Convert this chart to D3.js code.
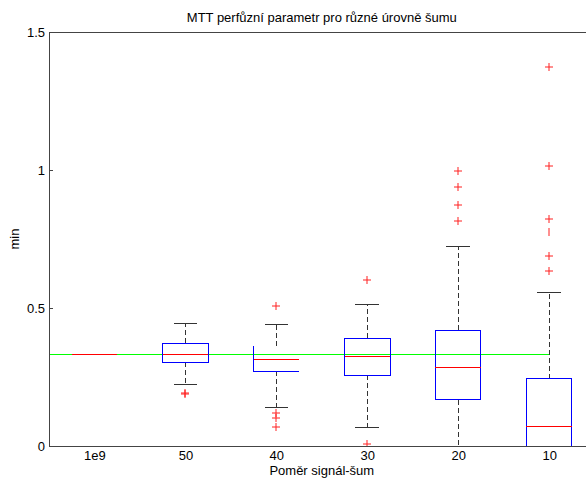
<!DOCTYPE html>
<html>
<head>
<meta charset="utf-8">
<script src="https://cdn.jsdelivr.net/npm/d3@7"></script>
<style>
  body { margin: 0; background: #fff; }
  svg { font-family: "Liberation Sans", Arial, sans-serif; }
  line, path.box { shape-rendering: crispEdges; }
</style>
</head>
<body>
<div id="main"></div>
<script>
"use strict";

// data
const categories = ["1e9", "50", "40", "30", "20", "10"];
const lowerWhisker = [0.333, 0.224, 0.140, 0.066, -0.10, -0.20];
const lowerQuartile = [0.333, 0.303, 0.271, 0.256, 0.167, -0.05];
const medians = [0.333, 0.332, 0.314, 0.325, 0.285, 0.069];
const upperQuartile = [0.333, 0.372, 0.362, 0.390, 0.419, 0.244];
const upperWhisker = [0.333, 0.443, 0.441, 0.514, 0.722, 0.556];
const outliers = [
    [],
    [0.193, 0.190],
    [0.508, 0.121, 0.101, 0.070],
    [0.600, 0.008],
    [0.998, 0.937, 0.873, 0.815],
    [1.373, 1.013, 0.822, 0.777, 0.690, 0.634]
];
const referenceValue = 0.333;
const yTicks = [0, 0.5, 1, 1.5];

const titleText = "MTT perfůzní parametr pro různé úrovně šumu";
const xLabel = "Poměr signál-šum";
const yLabel = "min";

function main() {
    const width = 586, height = 478;
    const margin = { left: 49, top: 32, bottom: 32 };
    const plotRight = 594.6; // the original figure is cut off on the right
    const fontSize = "13px";

    const svg = d3.select("#main").append("svg")
        .attr("width", width)
        .attr("height", height);

    const x = d3.scaleLinear().domain([0.5, 6.5]).range([margin.left, plotRight]);
    const y = d3.scaleLinear().domain([0, 1.5]).range([height - margin.bottom, margin.top]);

    svg.append("clipPath").attr("id", "plot-clip")
        .append("rect")
        .attr("x", x(0.5)).attr("y", y(1.5))
        .attr("width", x(6.5) - x(0.5)).attr("height", y(0) - y(1.5));

    const plot = svg.append("g").attr("clip-path", "url(#plot-clip)");

    // reference line
    plot.append("line")
        .attr("x1", x(0.5)).attr("x2", x(6))
        .attr("y1", y(referenceValue)).attr("y2", y(referenceValue))
        .attr("stroke", "#00ff00").attr("stroke-width", 1);

    const boxHalf = 0.25, capHalf = 0.13;

    categories.forEach((c, i) => {
        const pos = i + 1;
        const g = plot.append("g");
        const bx0 = x(pos - boxHalf), bx1 = x(pos + boxHalf);
        const degenerate = upperQuartile[i] === lowerQuartile[i] &&
            upperWhisker[i] === lowerWhisker[i];

        if (!degenerate) {
            // whiskers
            g.append("line")
                .attr("x1", x(pos)).attr("x2", x(pos))
                .attr("y1", y(upperQuartile[i])).attr("y2", y(upperWhisker[i]))
                .attr("stroke", "#333").attr("stroke-dasharray", "5,3");
            g.append("line")
                .attr("x1", x(pos)).attr("x2", x(pos))
                .attr("y1", y(lowerQuartile[i])).attr("y2", y(lowerWhisker[i]))
                .attr("stroke", "#333").attr("stroke-dasharray", "5,3");
            [upperWhisker[i], lowerWhisker[i]].forEach(v => {
                g.append("line")
                    .attr("x1", x(pos - capHalf)).attr("x2", x(pos + capHalf))
                    .attr("y1", y(v)).attr("y2", y(v))
                    .attr("stroke", "#333");
            });

            // box (the "40" box only has its left and bottom edges drawn in the original)
            const by0 = y(upperQuartile[i]), by1 = y(lowerQuartile[i]);
            const boxPath = c === "40"
                ? `M${bx0},${by0}V${by1}H${bx1}`
                : `M${bx0},${by0}H${bx1}V${by1}H${bx0}Z`;
            g.append("path")
                .attr("class", "box")
                .attr("d", boxPath)
                .attr("fill", "none")
                .attr("stroke", "#0000ff");
        }

        // median
        g.append("line")
            .attr("x1", bx0).attr("x2", bx1)
            .attr("y1", y(medians[i])).attr("y2", y(medians[i]))
            .attr("stroke", "#ff0000");

        // outliers as "+" marks
        outliers[i].forEach((v, j) => {
            const cx = Math.round(x(pos)), cy = Math.round(y(v));
            const onlyVertical = c === "10" && j === 3;
            let d = `M${cx},${cy - 4}V${cy + 4}`;
            if (!onlyVertical) d += `M${cx - 4},${cy}H${cx + 4}`;
            g.append("path")
                .attr("d", d)
                .attr("stroke", "#ff2020")
                .attr("stroke-width", 1)
                .attr("fill", "none");
        });
    });

    // axes
    const axisColor = "#444";
    const yAxis = svg.append("g")
        .attr("transform", `translate(${x(0.5)},0)`)
        .call(d3.axisLeft(y).tickValues(yTicks).tickFormat(d3.format("~g"))
            .tickSizeInner(-4).tickSizeOuter(0).tickPadding(4));

    const xAxis = svg.append("g")
        .attr("transform", `translate(0,${y(0)})`)
        .call(d3.axisBottom(x).tickValues(d3.range(1, categories.length + 1))
            .tickFormat(d => categories[d - 1])
            .tickSizeInner(0).tickSizeOuter(0).tickPadding(5));

    [xAxis, yAxis].forEach(a => {
        a.select(".domain").attr("stroke", axisColor);
        a.selectAll(".tick line").attr("stroke", axisColor);
        a.selectAll("text").attr("fill", "#000").style("font-size", fontSize)
            .style("font-family", "'Liberation Sans', Arial, sans-serif");
    });

    // frame lines
    svg.append("line")
        .attr("x1", x(0.5)).attr("x2", x(6.5))
        .attr("y1", y(1.5)).attr("y2", y(1.5))
        .attr("stroke", axisColor);
    svg.append("line")
        .attr("x1", x(6.5)).attr("x2", x(6.5))
        .attr("y1", y(1.5)).attr("y2", y(0))
        .attr("stroke", axisColor);

    // labels
    const midX = (x(0.5) + x(6.5)) / 2;
    svg.append("text")
        .attr("x", midX).attr("y", 22)
        .attr("text-anchor", "middle")
        .style("font-size", fontSize)
        .text(titleText);

    svg.append("text")
        .attr("x", midX).attr("y", 475)
        .attr("text-anchor", "middle")
        .style("font-size", fontSize)
        .text(xLabel);

    svg.append("text")
        .attr("transform", `translate(19,${(y(0) + y(1.5)) / 2}) rotate(-90)`)
        .attr("text-anchor", "middle")
        .style("font-size", fontSize)
        .text(yLabel);
}

main();
</script>
</body>
</html>
